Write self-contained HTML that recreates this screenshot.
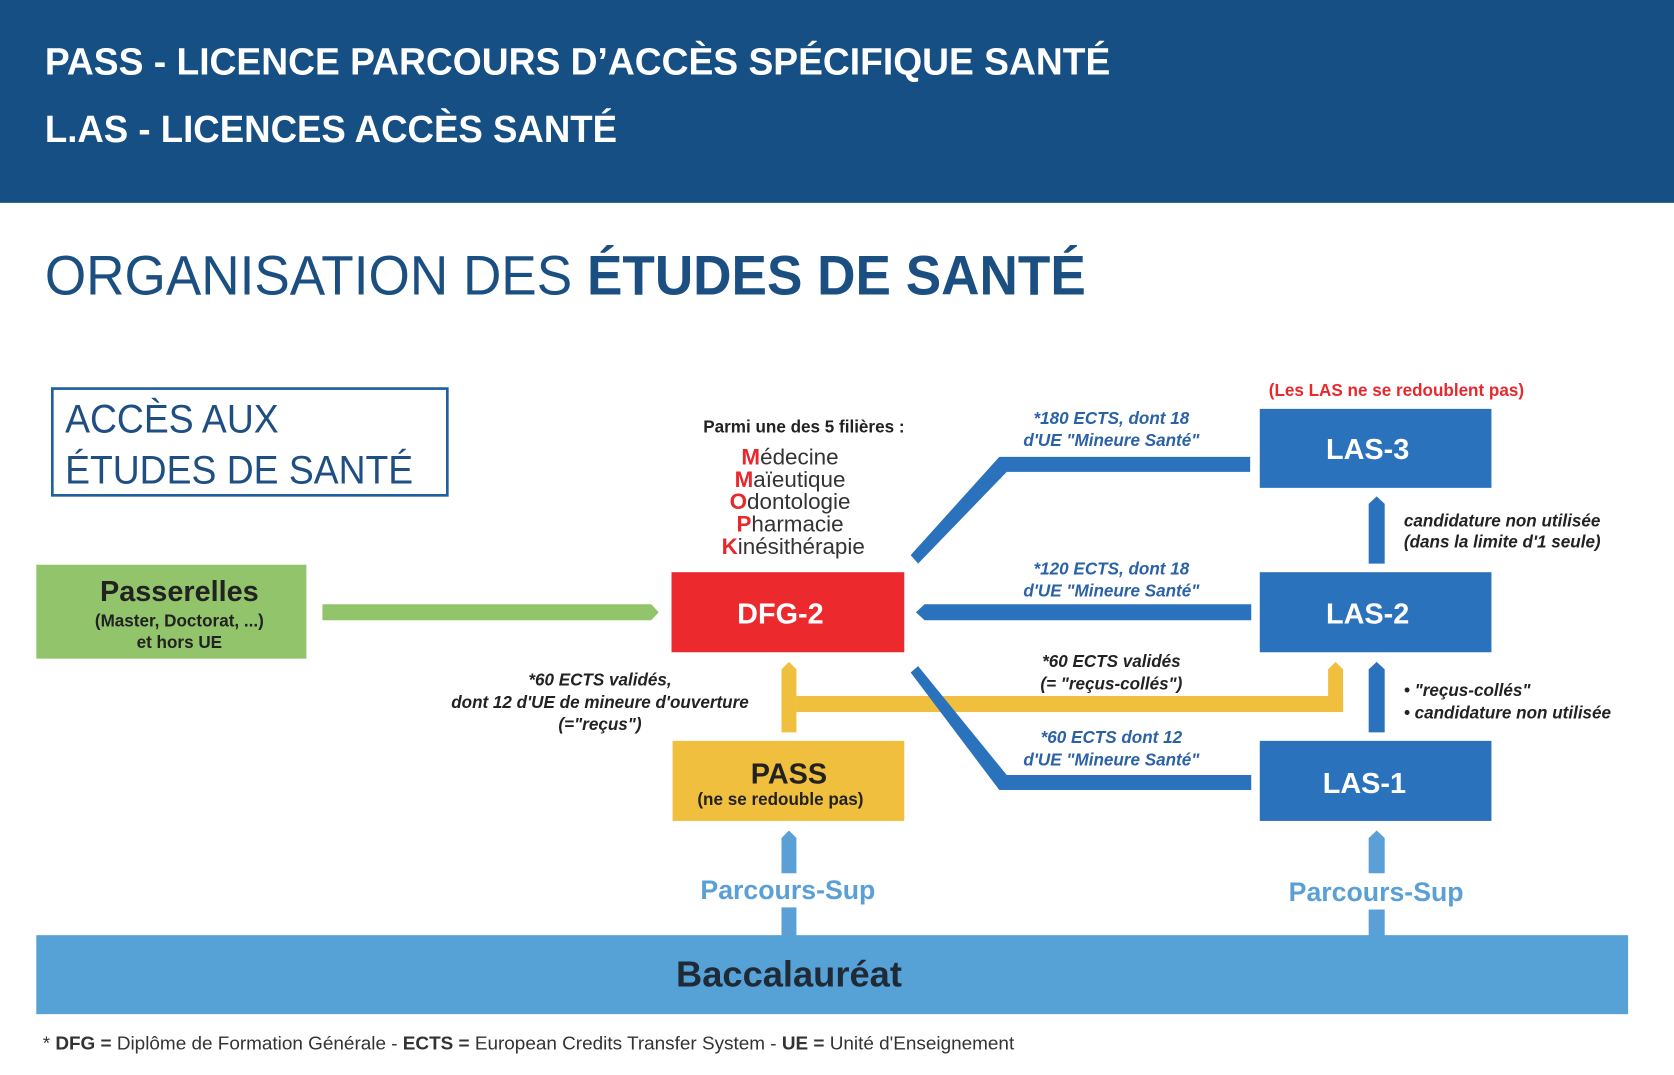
<!DOCTYPE html>
<html><head><meta charset="utf-8"><style>
html,body{margin:0;padding:0;background:#fff;width:1674px;height:1075px;overflow:hidden}
svg{display:block}
text{font-family:"Liberation Sans",sans-serif}
</style></head><body>
<svg width="1674" height="1075" viewBox="0 0 1568 1007" preserveAspectRatio="none" xmlns="http://www.w3.org/2000/svg">
<rect x="0" y="0" width="1568" height="190" fill="#154f83"/>
<text x="42" y="70" fill="#fff" font-size="36" font-weight="bold" textLength="998" lengthAdjust="spacingAndGlyphs">PASS - LICENCE PARCOURS D’ACCÈS SPÉCIFIQUE SANTÉ</text>
<text x="42" y="133" fill="#fff" font-size="36" font-weight="bold" textLength="536" lengthAdjust="spacingAndGlyphs">L.AS - LICENCES ACCÈS SANTÉ</text>
<text x="42" y="276" fill="#1b4f82" font-size="52" textLength="975" lengthAdjust="spacingAndGlyphs">ORGANISATION DES <tspan font-weight="bold">ÉTUDES DE SANTÉ</tspan></text>

<rect x="49" y="364" width="370" height="100" fill="none" stroke="#2060a0" stroke-width="2.5"/>
<text x="61" y="405" fill="#1f4f82" font-size="37" textLength="200" lengthAdjust="spacingAndGlyphs">ACCÈS AUX</text>
<text x="61" y="453" fill="#1f4f82" font-size="37" textLength="326" lengthAdjust="spacingAndGlyphs">ÉTUDES DE SANTÉ</text>

<rect x="34" y="529" width="253" height="88" fill="#92c46b"/>
<text x="168" y="563" text-anchor="middle" font-size="27" font-weight="bold" fill="#222">Passerelles</text>
<text x="168" y="587" text-anchor="middle" font-size="16" font-weight="bold" fill="#222">(Master, Doctorat, ...)</text>
<text x="168" y="607" text-anchor="middle" font-size="16" font-weight="bold" fill="#222">et hors UE</text>
<polygon points="302,566 610,566 617,573.5 610,581 302,581" fill="#92c46b"/>

<text x="753" y="405" text-anchor="middle" font-size="16" font-weight="bold" fill="#222">Parmi une des 5 filières :</text>
<g font-size="21" fill="#333" text-anchor="middle">
<text x="740" y="435"><tspan fill="#e8282d" font-weight="bold">M</tspan>édecine</text>
<text x="740" y="456"><tspan fill="#e8282d" font-weight="bold">M</tspan>aïeutique</text>
<text x="740" y="477"><tspan fill="#e8282d" font-weight="bold">O</tspan>dontologie</text>
<text x="740" y="498"><tspan fill="#e8282d" font-weight="bold">P</tspan>harmacie</text>
<text x="743" y="519"><tspan fill="#e8282d" font-weight="bold">K</tspan>inésithérapie</text>
</g>

<rect x="629" y="536" width="218" height="75" fill="#ec2a2e"/>
<text x="731" y="584" text-anchor="middle" font-size="27" font-weight="bold" fill="#fff">DFG-2</text>

<rect x="630" y="694" width="217" height="75" fill="#f0bf3e"/>
<text x="739" y="734" text-anchor="middle" font-size="27" font-weight="bold" fill="#222">PASS</text>
<text x="731" y="754" text-anchor="middle" font-size="16" font-weight="bold" fill="#222">(ne se redouble pas)</text>

<!-- yellow connector -->
<polygon points="732,686 732,627 739,620 746,627 746,686" fill="#f0bf3e"/>
<rect x="746" y="652" width="512" height="15" fill="#f0bf3e"/>
<polygon points="1244,652 1244,627 1251,620 1258,627 1258,667 1244,667" fill="#f0bf3e"/>

<text x="562" y="642" text-anchor="middle" font-size="16" font-weight="bold" font-style="italic" fill="#222">*60 ECTS validés,</text>
<text x="562" y="663" text-anchor="middle" font-size="16" font-weight="bold" font-style="italic" fill="#222">dont 12 d'UE de mineure d'ouverture</text>
<text x="562" y="684" text-anchor="middle" font-size="16" font-weight="bold" font-style="italic" fill="#222">(="reçus")</text>

<!-- LAS boxes -->
<g fill="#2b72bd">
<rect x="1180" y="383" width="217" height="74"/>
<rect x="1180" y="536" width="217" height="75"/>
<rect x="1180" y="694" width="217" height="75"/>
</g>
<g font-size="27" font-weight="bold" fill="#fff" text-anchor="middle">
<text x="1281" y="430">LAS-3</text>
<text x="1281" y="584">LAS-2</text>
<text x="1278" y="743">LAS-1</text>
</g>
<text x="1308" y="371" text-anchor="middle" font-size="16" font-weight="bold" fill="#e8282d">(Les LAS ne se redoublent pas)</text>

<!-- blue connectors -->
<g fill="#2b72bd">
<polygon points="1171,428 936,428 853,520 860,528 943,442 1171,442"/>
<polygon points="1172,566 866,566 858,573.5 866,581 1172,581"/>
<polygon points="1172,726 943,726 860,624 853,630 936,740 1172,740"/>
<polygon points="1282,528 1282,472 1289.5,465 1297,472 1297,528"/>
<polygon points="1282,686 1282,627 1289.5,620 1297,627 1297,686"/>
</g>

<g font-size="16" font-weight="bold" font-style="italic" fill="#2b62a6" text-anchor="middle">
<text x="1041" y="397">*180 ECTS, dont 18</text>
<text x="1041" y="418">d'UE "Mineure Santé"</text>
<text x="1041" y="538">*120 ECTS, dont 18</text>
<text x="1041" y="559">d'UE "Mineure Santé"</text>
<text x="1041" y="696">*60 ECTS dont 12</text>
<text x="1041" y="717">d'UE "Mineure Santé"</text>
</g>
<g font-size="16" font-weight="bold" font-style="italic" fill="#222">
<text x="1041" y="625" text-anchor="middle">*60 ECTS validés</text>
<text x="1041" y="646" text-anchor="middle">(= "reçus-collés")</text>
<text x="1315" y="493">candidature non utilisée</text>
<text x="1315" y="513">(dans la limite d'1 seule)</text>
<text x="1315" y="652">• "reçus-collés"</text>
<text x="1315" y="673">• candidature non utilisée</text>
</g>

<!-- Parcours-sup -->
<g fill="#5aa0d6">
<polygon points="732,818 732,785 739,778 746,785 746,818"/>
<rect x="732" y="850" width="14" height="27"/>
<polygon points="1282,818 1282,785 1289.5,778 1297,785 1297,818"/>
<rect x="1282" y="852" width="15" height="25"/>
</g>
<text x="738" y="842" text-anchor="middle" font-size="25" font-weight="bold" fill="#5aa0d6">Parcours-Sup</text>
<text x="1289" y="844" text-anchor="middle" font-size="25" font-weight="bold" fill="#5aa0d6">Parcours-Sup</text>

<rect x="34" y="876" width="1491" height="74" fill="#56a1d5"/>
<text x="739" y="924" text-anchor="middle" font-size="34" font-weight="bold" fill="#1f2a36">Baccalauréat</text>

<text x="40" y="983" font-size="17" fill="#333" textLength="910" lengthAdjust="spacingAndGlyphs">* <tspan font-weight="bold">DFG =</tspan> Diplôme de Formation Générale - <tspan font-weight="bold">ECTS =</tspan> European Credits Transfer System - <tspan font-weight="bold">UE =</tspan> Unité d'Enseignement</text>
</svg>
</body></html>
